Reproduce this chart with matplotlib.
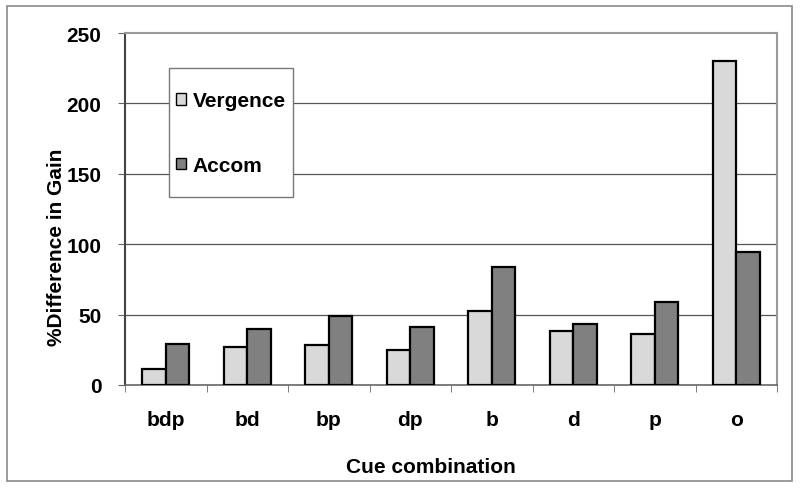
import matplotlib
matplotlib.use("Agg")
import matplotlib.pyplot as plt
from matplotlib.patches import Rectangle, Patch
import numpy as np

categories = ["bdp", "bd", "bp", "dp", "b", "d", "p", "o"]
vergence = [11.4, 27.2, 28.4, 25.1, 52.3, 38.6, 36.4, 230.3]
accom = [28.9, 40.0, 49.2, 41.2, 83.6, 43.1, 59.0, 94.2]
yticks = [0, 50, 100, 150, 200, 250]

plt.rcParams['font.family'] = ['Liberation Sans', 'DejaVu Sans']
plt.rcParams['font.weight'] = 'bold'

FS = 15
fig = plt.figure(figsize=(8, 4.89), dpi=100)
W, H = 800, 489
ax = fig.add_axes([125 / W, (H - 386) / H, (777 - 125) / W, (386 - 34) / H])

# outer frame
fig.patches.append(Rectangle((7 / W, (H - 482) / H), 785 / W, 475 / H,
                             transform=fig.transFigure, fill=False,
                             edgecolor="#8a8a8a", linewidth=1.2, zorder=0))

x = np.arange(len(categories)) + 0.5
bw = 0.288
ax.bar(x - bw / 2, vergence, width=bw, color="#d9d9d9", edgecolor="black",
       linewidth=1.6, zorder=3, label="Vergence")
ax.bar(x + bw / 2, accom, width=bw, color="#808080", edgecolor="black",
       linewidth=1.6, zorder=3, label="Accom")

ax.set_xlim(0, len(categories))
ax.set_ylim(0, 250)
ax.set_yticks(yticks)
ax.set_yticklabels([str(v) for v in yticks], fontsize=FS, fontweight='bold')
ax.set_xticks(x)
ax.set_xticklabels(categories, fontsize=FS, fontweight='bold')
ax.set_xticks(np.arange(len(categories) + 1), minor=True)
ax.tick_params(axis='x', which='major', length=0, pad=18)
ax.tick_params(axis='x', which='minor', length=5, direction='out', color="#666666")
ax.tick_params(axis='y', which='major', length=5, direction='out', pad=12, color="#666666")

for v in yticks[1:-1]:
    ax.axhline(v, color="#555555", linewidth=0.9, zorder=1)

for s in ['top', 'right']:
    ax.spines[s].set_color("#999999")
    ax.spines[s].set_linewidth(1.5)
ax.spines['left'].set_color("#444444")
ax.spines['left'].set_linewidth(1.5)
ax.spines['bottom'].set_color("#666666")
ax.spines['bottom'].set_linewidth(1.2)

ax.set_xlabel("Cue combination", fontsize=FS, fontweight='bold')
ax.xaxis.set_label_coords((430.5 - 125) / 652, -(458 - 386) / 352)
ax.set_ylabel("%Difference in Gain", fontsize=FS, fontweight='bold')
ax.yaxis.set_label_coords((66 - 125) / 652, (386 - 247) / 352)

# legend box
fig.patches.append(Rectangle((169 / W, (H - 198) / H), 124 / W, 129 / H,
                             transform=fig.transFigure, facecolor="white",
                             edgecolor="#777777", linewidth=1.0, zorder=4))
handles = [Patch(facecolor="#d9d9d9", edgecolor="black", linewidth=1.0),
           Patch(facecolor="#808080", edgecolor="black", linewidth=1.0)]
leg = fig.legend(handles, ["Vergence", "Accom"], loc="center left",
                 bbox_to_anchor=(176 / W, (H - 134) / H), frameon=False,
                 prop={'weight': 'bold', 'size': FS},
                 handlelength=0.5, handleheight=0.5, handletextpad=0.3,
                 labelspacing=2.2, borderpad=0.0, borderaxespad=0)
leg.set_zorder(5)

fig.savefig("out.png", dpi=100)
